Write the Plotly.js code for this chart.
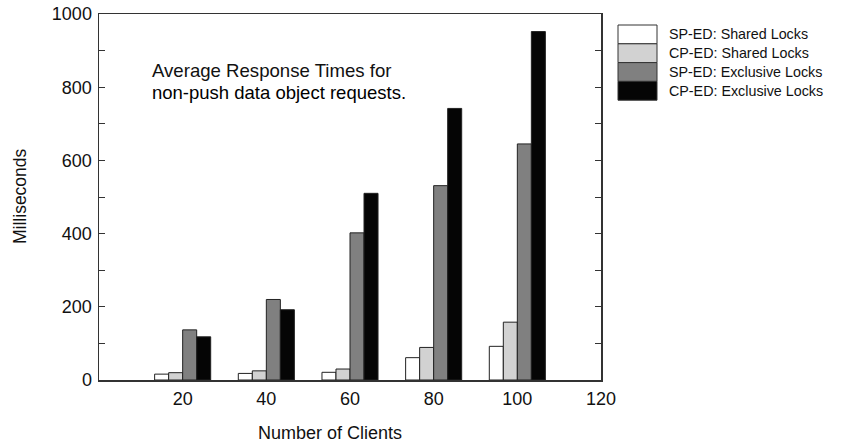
<!DOCTYPE html>
<html>
<head>
<meta charset="utf-8">
<script src="https://cdn.plot.ly/plotly-3.0.1.min.js"></script>
<style>html,body{margin:0;padding:0;background:#fff;}#chart{width:846px;height:446px;}</style>
</head>
<body>
<div id="chart"></div>
<script>
const clients = [20, 40, 60, 80, 100];
const seriesNames = ["SP-ED: Shared Locks", "CP-ED: Shared Locks", "SP-ED: Exclusive Locks", "CP-ED: Exclusive Locks"];
const spShared = [16, 18, 21, 61, 92];
const cpShared = [20, 25, 30, 89, 158];
const spExclusive = [137, 220, 402, 531, 645];
const cpExclusive = [118, 192, 510, 742, 952];
const seriesValues = [spShared, cpShared, spExclusive, cpExclusive];
const colors = ["#ffffff", "#d2d2d2", "#808080", "#050505"];
const yTicks = [0, 200, 400, 600, 800, 1000];
const xTicks = [20, 40, 60, 80, 100, 120];

const FONT = "Liberation Sans, Arial, Helvetica, sans-serif";

const traces = seriesValues.map((vals, i) => ({
  type: "bar",
  name: seriesNames[i],
  x: clients,
  y: vals,
  marker: { color: colors[i], line: { color: "#222", width: 1 } },
  showlegend: false,
  hoverinfo: "x+y+name"
}));

// plot area pixel geometry for custom legend
const L = 99, R = 245, T = 14, B = 66, W = 846, H = 446;
const pw = W - L - R, ph = H - T - B;
const px = p => (p - L) / pw;
const py = p => (H - B - p) / ph;

const shapes = [];
const annotations = [];
const rowTop = 25, rowH = 18.8;
seriesNames.forEach((name, i) => {
  const y0 = rowTop + i * rowH, y1 = y0 + rowH;
  shapes.push({
    type: "rect", xref: "paper", yref: "paper",
    x0: px(618), x1: px(657), y0: py(y1), y1: py(y0),
    fillcolor: colors[i], line: { color: "#333", width: 1 }
  });
  annotations.push({
    xref: "paper", yref: "paper", x: px(667), y: py((y0 + y1) / 2),
    xanchor: "left", yanchor: "middle", showarrow: false,
    text: name, font: { family: FONT, size: 14.3, color: "#111" }
  });
});

annotations.push({
  xref: "paper", yref: "paper", x: px(150), y: py(71),
  xanchor: "left", yanchor: "middle", showarrow: false,
  text: "Average Response Times for", font: { family: FONT, size: 18.6, color: "#111" }
});
annotations.push({
  xref: "paper", yref: "paper", x: px(150), y: py(92),
  xanchor: "left", yanchor: "middle", showarrow: false,
  text: "non-push data object requests.", font: { family: FONT, size: 18.5, color: "#000" }
});
annotations.push({
  xref: "paper", yref: "paper", x: px(330), y: py(433),
  xanchor: "center", yanchor: "middle", showarrow: false,
  text: "Number of Clients", font: { family: FONT, size: 18, color: "#111" }
});
annotations.push({
  xref: "paper", yref: "paper", x: px(20), y: py(196),
  xanchor: "center", yanchor: "middle", showarrow: false, textangle: -90,
  text: "Milliseconds", font: { family: FONT, size: 17.5, color: "#111" }
});

const layout = {
  width: W, height: H,
  margin: { l: L, r: R, t: T, b: B, pad: 0 },
  paper_bgcolor: "#fff", plot_bgcolor: "#fff",
  barmode: "group", bargap: 0.33, bargroupgap: 0,
  font: { family: FONT, size: 18, color: "#111" },
  xaxis: {
    range: [0, 120], tickvals: xTicks, ticktext: xTicks.map(String),
    showgrid: false, zeroline: false, showline: true, mirror: true,
    linecolor: "#333", linewidth: 1.5, ticks: "", ticklabelstandoff: 2,
    tickfont: { family: FONT, size: 18, color: "#111" }
  },
  yaxis: {
    range: [0, 1000], tickvals: yTicks, ticktext: yTicks.map(String),
    showgrid: false, zeroline: false, showline: true, mirror: "ticks",
    linecolor: "#333", linewidth: 1.5, ticks: "inside", ticklen: 6, tickcolor: "#333",
    ticklabelstandoff: 2,
    minor: { ticks: "inside", dtick: 100, ticklen: 6, tickcolor: "#333", showgrid: false },
    tickfont: { family: FONT, size: 18, color: "#111" }
  },
  shapes: shapes,
  annotations: annotations
};

Plotly.newPlot("chart", traces, layout, { displayModeBar: false, staticPlot: true });
</script>
</body>
</html>
